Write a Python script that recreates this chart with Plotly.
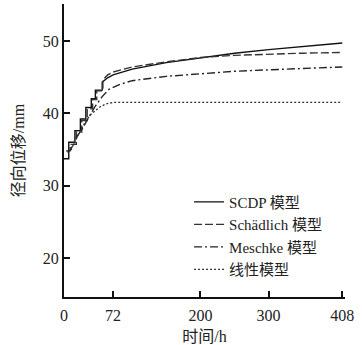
import plotly.graph_objects as go

# ---- data ----
t_scdp = [0, 7, 7, 16, 16, 24, 24, 32, 32, 40, 40, 46, 46, 56, 56, 64, 72, 100, 150, 200, 250, 300, 350, 408]
v_scdp = [33.7, 33.7, 36.0, 36.0, 37.6, 37.6, 39.2, 39.2, 40.8, 40.8, 42.0, 42.0, 43.2, 43.2, 44.3, 44.9, 45.3, 46.1, 47.0, 47.7, 48.3, 48.8, 49.2, 49.7]

t_sch = [3, 9, 9, 18, 18, 26, 26, 34, 34, 42, 42, 48, 48, 57, 57, 64, 72, 100, 150, 200, 250, 300, 350, 408]
v_sch = [34.8, 34.8, 35.7, 35.7, 37.4, 37.4, 39.0, 39.0, 40.6, 40.6, 41.9, 41.9, 43.1, 43.1, 44.6, 45.3, 45.7, 46.4, 47.1, 47.7, 48.0, 48.2, 48.3, 48.4]

t_mes = [5, 10, 10, 20, 20, 28, 28, 36, 36, 46, 46, 56, 56, 66, 82, 100, 150, 200, 250, 300, 350, 408]
v_mes = [34.6, 35.0, 35.0, 36.9, 36.9, 38.0, 38.0, 39.4, 39.4, 41.0, 41.0, 42.3, 42.3, 43.3, 44.0, 44.5, 45.1, 45.5, 45.8, 46.0, 46.2, 46.4]

t_lin = [10, 14, 20, 26, 33, 40, 53, 62, 72, 100, 200, 300, 408]
v_lin = [34.9, 35.8, 36.9, 37.9, 39.1, 39.9, 40.9, 41.3, 41.5, 41.5, 41.5, 41.5, 41.5]

names = ["SCDP 模型", "Schädlich 模型", "Meschke 模型", "线性模型"]
x_ticks = [0, 72, 200, 300, 408]
y_ticks = [20, 30, 40, 50]

FONT = "Liberation Serif, Noto Sans CJK SC, serif"

fig = go.Figure()
fig.add_trace(go.Scatter(x=t_scdp, y=v_scdp, mode="lines", name=names[0],
                         line=dict(color="#111", width=1.4, dash="solid")))
fig.add_trace(go.Scatter(x=t_sch, y=v_sch, mode="lines", name=names[1],
                         line=dict(color="#333", width=1.4, dash="8px,3px")))
fig.add_trace(go.Scatter(x=t_mes, y=v_mes, mode="lines", name=names[2],
                         line=dict(color="#222", width=1.4, dash="8px,3px,2px,3px")))
fig.add_trace(go.Scatter(x=t_lin, y=v_lin, mode="lines", name=names[3],
                         line=dict(color="#333", width=1.4, dash="2px,2px")))

fig.update_layout(
    width=362, height=345,
    margin=dict(l=64, r=17, t=4, b=48, autoexpand=False),
    paper_bgcolor="white", plot_bgcolor="white",
    font=dict(family=FONT, size=16, color="#222"),
    showlegend=True,
    legend=dict(x=0.445, y=0.38, xanchor="left", yanchor="top",
                bgcolor="rgba(0,0,0,0)", font=dict(size=15, family=FONT),
                itemwidth=30, tracegroupgap=0),
    xaxis=dict(range=[0, 412], tickvals=x_ticks, ticktext=[str(v) for v in x_ticks],
               ticks="inside", ticklen=6, tickwidth=2, tickcolor="#111", automargin=False,
               ticklabelstandoff=3,
               showline=True, linewidth=2, linecolor="#111", showgrid=False, zeroline=False,
               title=dict(text="时间/h", standoff=12, font=dict(size=16))),
    yaxis=dict(range=[14.6, 55.1], tickvals=y_ticks, ticktext=[str(v) for v in y_ticks],
               ticks="inside", ticklen=6, tickwidth=2, tickcolor="#111", automargin=False,
               showline=True, linewidth=2, linecolor="#111", showgrid=False, zeroline=False,
               title=dict(text="径向位移/mm", standoff=14, font=dict(size=16))),
)

fig.write_html("out.html", config={"displayModeBar": False},
               post_script="document.body.style.margin='0';")
